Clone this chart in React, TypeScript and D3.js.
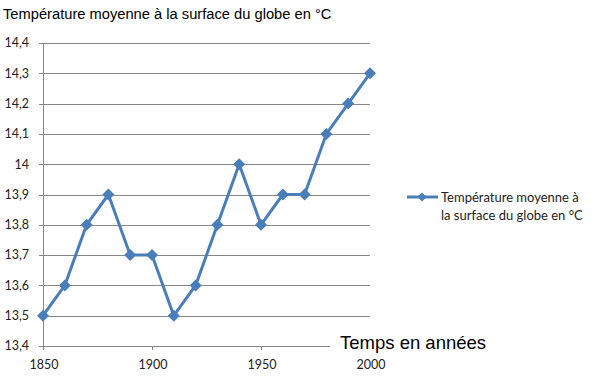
import React from "react";
import * as d3 from "d3";

const years = [1850, 1860, 1870, 1880, 1890, 1900, 1910, 1920, 1930, 1940, 1950, 1960, 1970, 1980, 1990, 2000];
const temps = [13.5, 13.6, 13.8, 13.9, 13.7, 13.7, 13.5, 13.6, 13.8, 14.0, 13.8, 13.9, 13.9, 14.1, 14.2, 14.3];
const yTicks = [13.4, 13.5, 13.6, 13.7, 13.8, 13.9, 14.0, 14.1, 14.2, 14.3, 14.4];
const xTicks = [1850, 1900, 1950, 2000];
const title = "Température moyenne à la surface du globe en °C";
const xTitle = "Temps en années";
const legendLines = ["Température moyenne à", "la surface du globe en °C"];

const BLUE = "#4A7EBB";
const GRID = "#868686";
const TICKFONT = "Lato, 'Open Sans', sans-serif";

export default function App() {
  const x = d3.scaleLinear().domain([1850, 2000]).range([43, 370]);
  const y = d3.scaleLinear().domain([13.4, 14.4]).range([346, 43]);
  const data = years.map((yr, i) => ({ yr, t: temps[i] }));
  const line = d3
    .line<{ yr: number; t: number }>()
    .x((d) => x(d.yr))
    .y((d) => y(d.t));
  const fmt = (v: number) => {
    const s = d3.format(".1f")(v);
    return (s.endsWith(".0") ? s.slice(0, -2) : s).replace(".", ",");
  };
  const diamond = (cx: number, cy: number, r: number) =>
    `M${cx},${cy - r}L${cx + r},${cy}L${cx},${cy + r}L${cx - r},${cy}Z`;
  const [x0, x1] = x.range();
  const [yb, yt] = y.range();
  return (
    <svg
      width={599}
      height={377}
      style={{ position: "absolute", left: 0, top: 0, background: "#fff" }}
    >
      <rect x={0} y={0} width={599} height={377} fill="#fff" />
      <text x={3} y={19} fontFamily="Arial, 'Liberation Sans', sans-serif" fontSize={14.7} fill="#000">
        {title}
      </text>
      {yTicks.map((v) => (
        <g key={v}>
          <line x1={x0 - 4} x2={x1} y1={Math.round(y(v)) + 0.5} y2={Math.round(y(v)) + 0.5} stroke={GRID} strokeWidth={1} />
          <text
            x={29}
            y={y(v)}
            dy="0.35em"
            textAnchor="end"
            fontFamily={TICKFONT}
            fontSize={12.5}
            fill="#222"
          >
            {fmt(v)}
          </text>
        </g>
      ))}
      <line x1={Math.round(x0) + 0.5} x2={Math.round(x0) + 0.5} y1={yt} y2={yb} stroke={GRID} strokeWidth={1} />
      {xTicks.map((v) => (
        <g key={v}>
          <line x1={Math.round(x(v)) + 0.5} x2={Math.round(x(v)) + 0.5} y1={yb} y2={yb + 4} stroke={GRID} strokeWidth={1} />
          <text x={x(v) + 1} y={369} textAnchor="middle" fontFamily={TICKFONT} fontSize={12.5} fill="#222">
            {v}
          </text>
        </g>
      ))}
      <rect x={330} y={330} width={165} height={24} fill="#fff" />
      <text x={340} y={349} fontFamily="Arial, 'Liberation Sans', sans-serif" fontSize={18.5} fill="#000">
        {xTitle}
      </text>
      <path d={line(data) ?? ""} fill="none" stroke={BLUE} strokeWidth={3} strokeLinejoin="round" />
      {data.map((d) => (
        <path key={d.yr} d={diamond(x(d.yr), y(d.t), 6)} fill={BLUE} />
      ))}
      <line x1={407} x2={438} y1={197} y2={197} stroke={BLUE} strokeWidth={3} />
      <path d={diamond(422, 197, 4.5)} fill={BLUE} />
      {legendLines.map((s, i) => (
        <text key={i} x={441} y={197 + i * 18} dy="0.35em" fontFamily={TICKFONT} fontSize={13} fill="#222">
          {s}
        </text>
      ))}
    </svg>
  );
}
